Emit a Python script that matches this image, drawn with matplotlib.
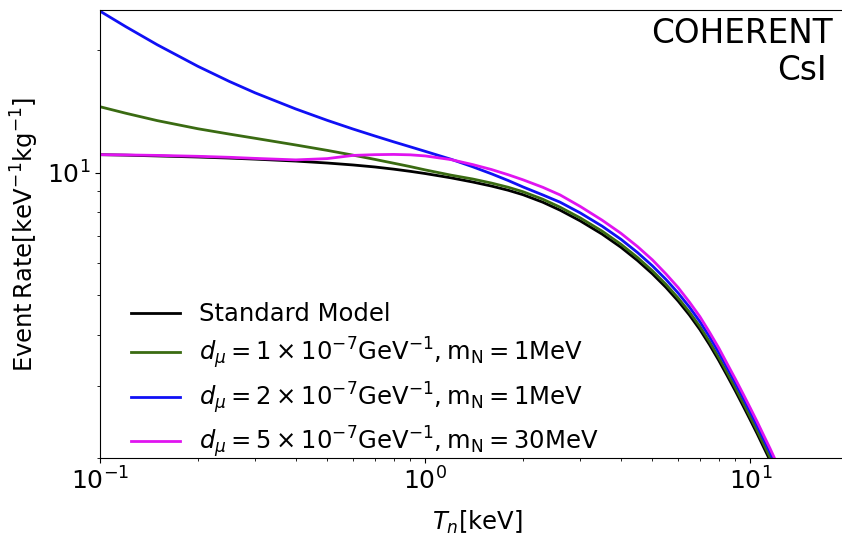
import numpy as np
import matplotlib.pyplot as plt
from matplotlib.ticker import NullFormatter

# recoil energy grid [keV]
T_n = [0.1, 0.12, 0.15, 0.2, 0.25, 0.3, 0.4, 0.5, 0.6, 0.7, 0.8, 0.9, 1.0, 1.2,
       1.4, 1.6, 1.8, 2.0, 2.3, 2.6, 3.0, 3.5, 4.0, 4.5, 5.0, 5.5, 6.0, 6.5,
       7.0, 7.5, 8.0, 8.5, 9.0, 9.5, 10.0, 10.5, 11.0, 11.5, 12.0, 12.5]

# event rates [keV^-1 kg^-1]
rate_sm = [11.06, 11.03, 10.98, 10.913, 10.848, 10.784, 10.667, 10.551, 10.436, 10.319,
           10.193, 10.068, 9.944, 9.707, 9.480, 9.265, 9.05, 8.824, 8.46, 8.088,
           7.613, 7.068, 6.563, 6.089, 5.649, 5.236, 4.846, 4.477, 4.125, 3.784,
           3.467, 3.176, 2.918, 2.685, 2.478, 2.293, 2.123, 1.973, 1.833, 1.706]
rate_d1 = [14.49, 13.97, 13.40, 12.80, 12.42, 12.13, 11.68, 11.33, 11.03, 10.77,
           10.54, 10.34, 10.15, 9.855, 9.642, 9.423, 9.204, 8.974, 8.604, 8.226,
           7.742, 7.188, 6.675, 6.193, 5.745, 5.325, 4.928, 4.553, 4.195, 3.848,
           3.526, 3.230, 2.968, 2.731, 2.520, 2.332, 2.159, 2.007, 1.864, 1.735]
rate_d2 = [24.84, 22.76, 20.55, 18.20, 16.71, 15.67, 14.31, 13.42, 12.78, 12.29,
           11.89, 11.56, 11.27, 10.78, 10.33, 9.927, 9.561, 9.219, 8.814, 8.460,
           7.963, 7.393, 6.865, 6.369, 5.909, 5.477, 5.069, 4.683, 4.315, 3.958,
           3.626, 3.322, 3.052, 2.809, 2.592, 2.398, 2.221, 2.064, 1.917, 1.785]
rate_d5 = [11.06, 11.045, 11.014, 10.958, 10.897, 10.830, 10.739, 10.818, 11.014, 11.06,
           11.075, 11.050, 10.982, 10.757, 10.460, 10.170, 9.877, 9.598, 9.202, 8.814,
           8.259, 7.646, 7.100, 6.587, 6.111, 5.649, 5.228, 4.816, 4.437, 4.059,
           3.719, 3.397, 3.121, 2.872, 2.651, 2.453, 2.271, 2.111, 1.961, 1.825]

labels = ['Standard Model',
          r'$d_\mu=1\times10^{-7}\mathrm{GeV}^{-1}, \mathrm{m_N}=1\mathrm{MeV}$',
          r'$d_\mu=2\times10^{-7}\mathrm{GeV}^{-1}, \mathrm{m_N}=1\mathrm{MeV}$',
          r'$d_\mu=5\times10^{-7}\mathrm{GeV}^{-1}, \mathrm{m_N}=30\mathrm{MeV}$']
colors = ['black', '#3a6b12', '#1010f5', '#e014f0']

fig = plt.figure(figsize=(8.42, 5.41), dpi=100)
ax = fig.add_axes([0.1188, 0.1534, 0.8967, 0.8281])

for rate, lab, col in zip([rate_sm, rate_d1, rate_d2, rate_d5], labels, colors):
    ax.plot(T_n, rate, color=col, lw=2.0, label=lab)

ax.set_xscale('log')
ax.set_yscale('log')
ax.set_xlim(0.1, 21)
ax.set_ylim(2, 25)
ax.yaxis.set_minor_formatter(NullFormatter())
ax.xaxis.set_minor_formatter(NullFormatter())
ax.tick_params(labelsize=18)
ax.set_xlabel(r'$T_n[\mathrm{keV}]$', fontsize=17.5, labelpad=10)
ax.set_ylabel(r'$\mathrm{Event\,Rate[keV^{-1}kg^{-1}]}$', fontsize=17.5)

ax.legend(loc='lower left', frameon=False, fontsize=17.5, handlelength=2.0,
          handletextpad=0.8, labelspacing=0.36, bbox_to_anchor=(0.012, -0.054))

fig.text(833 / 842, 1 - 43 / 541, 'COHERENT', ha='right', va='baseline', fontsize=23.5)
fig.text(827 / 842, 1 - 80 / 541, 'CsI', ha='right', va='baseline', fontsize=23.5)

fig.savefig('out.png', dpi=100)
